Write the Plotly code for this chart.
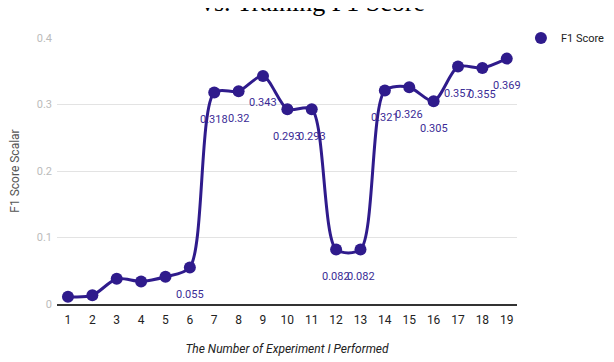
import plotly.graph_objects as go

experiments = list(range(1, 20))
f1_scores = [0.011, 0.013, 0.038, 0.034, 0.041, 0.055, 0.318, 0.32, 0.343, 0.293,
             0.293, 0.082, 0.082, 0.321, 0.326, 0.305, 0.357, 0.355, 0.369]
# only experiments 6+ carry a value label in the original
labels = ["", "", "", "", "", "0.055", "0.318", "0.32", "0.343", "0.293",
          "0.293", "0.082", "0.082", "0.321", "0.326", "0.305", "0.357", "0.355", "0.369"]

purple = "#2f1b8c"

fig = go.Figure()
fig.add_trace(go.Scatter(x=experiments, y=f1_scores, mode="lines+markers",
                         line=dict(color=purple, width=3, shape="spline", smoothing=0.8),
                         marker=dict(size=12, color=purple),
                         showlegend=False, cliponaxis=False))
# legend entry shown as a plain dot
fig.add_trace(go.Scatter(x=[None], y=[None], mode="markers", name="F1 Score",
                         marker=dict(size=12, color=purple)))

for x, y, t in zip(experiments, f1_scores, labels):
    if t:
        fig.add_annotation(x=x, y=y, text=t, showarrow=False, yshift=-27,
                           font=dict(family="Roboto", size=11, color="#3b2c96"))

# title is cut by the top edge in the reference
fig.add_annotation(text="vs. Training F1 Score", xref="paper", yref="paper",
                   x=0.557, y=1, yshift=19, xanchor="center", yanchor="bottom",
                   showarrow=False,
                   font=dict(family="Liberation Serif", size=26, color="#000"))

# the page body adds an 8px offset, so margins are shifted by that amount
fig.update_layout(
    width=614, height=362,
    margin=dict(l=49, r=100, t=30, b=66),
    plot_bgcolor="white", paper_bgcolor="white",
    font=dict(family="Roboto", size=11, color="#222"),
    legend=dict(x=1.202, y=1.0, xanchor="right", yanchor="middle",
                font=dict(family="Roboto", size=11, color="#222"),
                itemsizing="constant"),
)
fig.update_xaxes(range=[0.55, 19.42], tickmode="array", tickvals=experiments,
                 ticktext=[str(e) for e in experiments], showgrid=False,
                 showline=True, linecolor="#333", linewidth=2, ticks="",
                 automargin=False, ticklabelstandoff=4,
                 tickfont=dict(family="Roboto", size=12, color="#222"),
                 title=dict(text="<i>The Number of Experiment I Performed</i>", standoff=18,
                            font=dict(family="Roboto", size=12, color="#222")))
fig.update_yaxes(range=[0, 0.4], dtick=0.1, showgrid=True, gridcolor="#e3e3e3",
                 zeroline=False, ticks="", ticklabelstandoff=4, automargin=False,
                 tickfont=dict(family="Roboto", size=11, color="#bbbbbb"),
                 title=dict(text="F1 Score Scalar", standoff=22,
                            font=dict(family="Roboto", size=12, color="#555")))

fig.write_html("out.html")
